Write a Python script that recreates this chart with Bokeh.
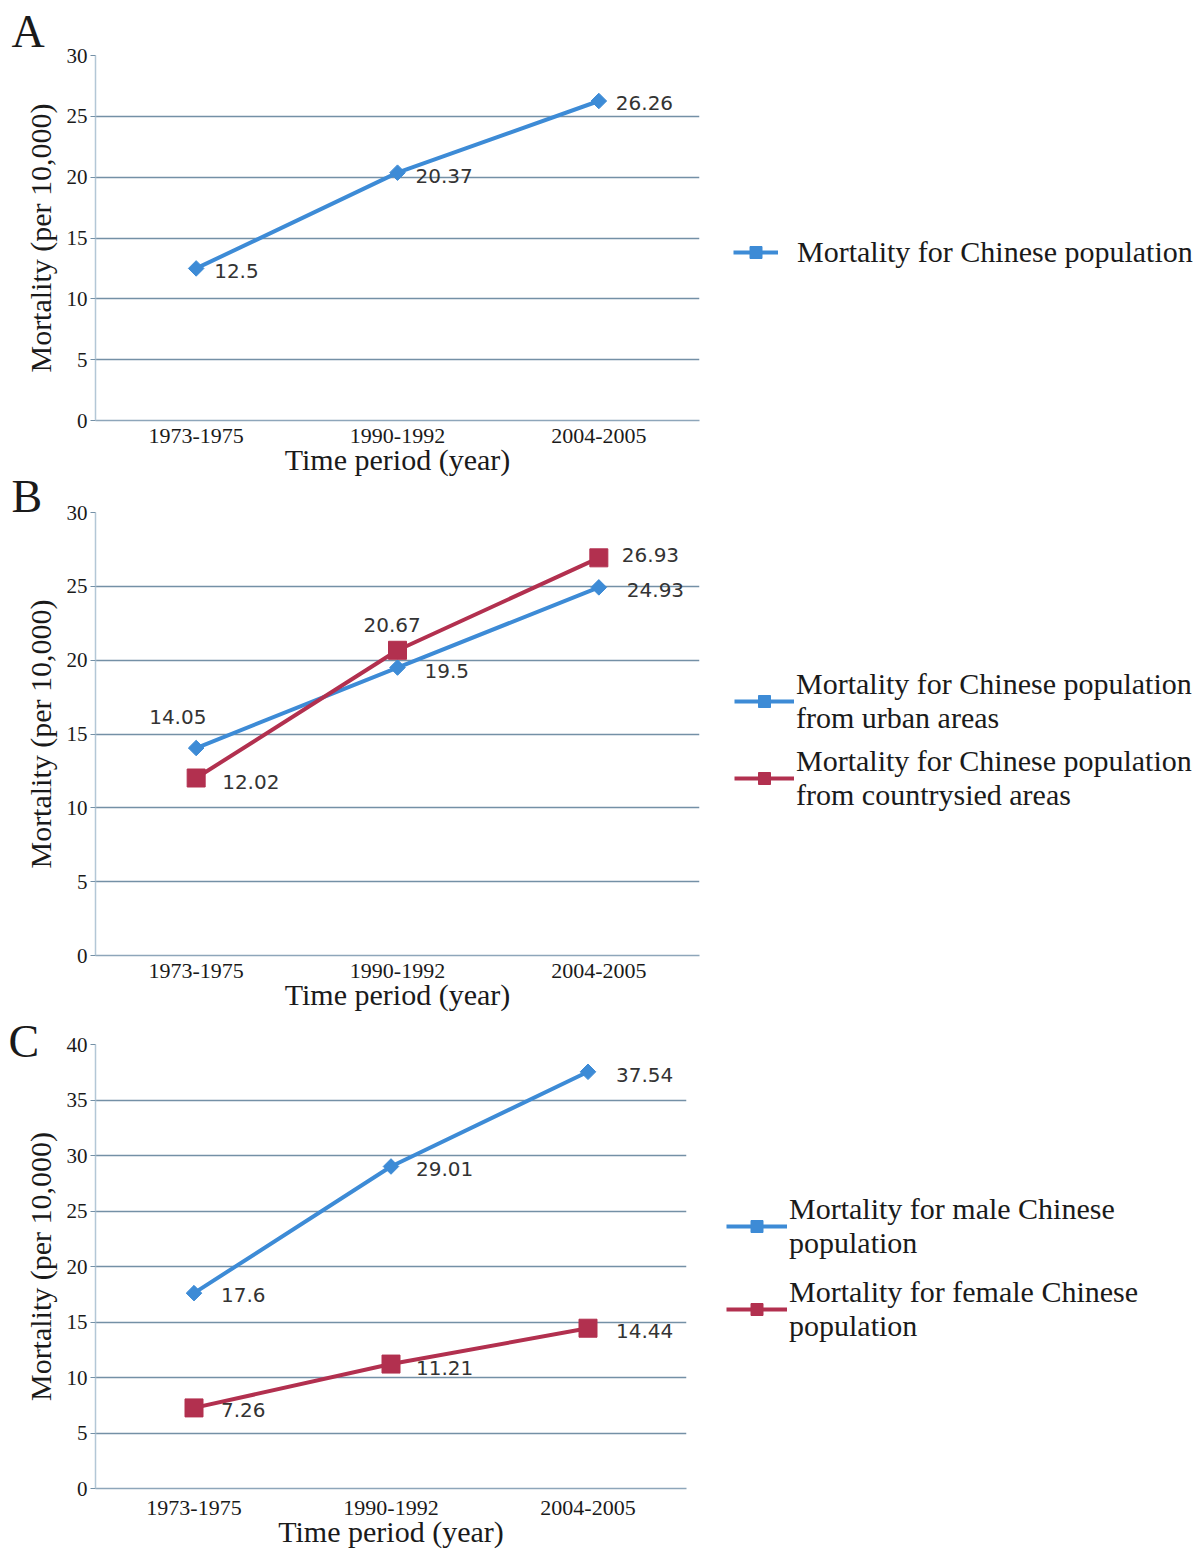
import math
from bokeh.plotting import figure
from bokeh.layouts import column
from bokeh.models import ColumnDataSource, Legend, LegendItem, FixedTicker
from bokeh.core.properties import value
from bokeh.embed import file_html
from bokeh.resources import INLINE

# ---------------- data ----------------
periods = ["1973-1975", "1990-1992", "2004-2005"]
a_total = [12.5, 20.37, 26.26]
b_urban = [14.05, 19.5, 24.93]
b_country = [12.02, 20.67, 26.93]
c_male = [17.6, 29.01, 37.54]
c_female = [7.26, 11.21, 14.44]

a_label = "Mortality for Chinese population"
b_urban_label = "Mortality for Chinese population\nfrom urban areas"
b_country_label = "Mortality for Chinese population\nfrom countrysied areas"
c_male_label = "Mortality for male Chinese\npopulation"
c_female_label = "Mortality for female Chinese\npopulation"

# ---------------- styles ----------------
BLUE = "#3d8bd6"
RED = "#b2304f"
GRID = "#7490a6"
SERIF = "Liberation Serif"
SANS = "DejaVu Sans"
DIAMOND = ("square", 11, math.pi / 4)
SQUARE = ("square", 18, 0)


def make_panel(letter, ymax, series, fw, fh, borders, legend_cfg, letter_cfg, xstand):
    left, right, top, bottom = borders
    p = figure(x_range=periods, y_range=(0, ymax), frame_width=fw, frame_height=fh,
               output_backend="svg", toolbar_location=None,
               min_border_left=left, min_border_right=right,
               min_border_top=top, min_border_bottom=bottom)
    p.outline_line_color = None
    p.background_fill_color = "white"
    p.border_fill_color = "white"
    p.xgrid.grid_line_color = None
    p.ygrid.grid_line_color = GRID
    p.ygrid.grid_line_width = 1.3
    p.yaxis.ticker = FixedTicker(ticks=list(range(0, ymax + 1, 5)))

    p.title.text = letter
    p.title.align = "left"
    p.title.offset = letter_cfg[0]
    p.title.standoff = letter_cfg[1]
    p.title.text_font = SERIF
    p.title.text_font_size = "46px"
    p.title.text_font_style = "normal"
    p.title.text_color = "#1a1a1a"

    p.xaxis.axis_label = "Time period (year)"
    p.yaxis.axis_label = "Mortality (per 10,000)"
    for ax in (p.xaxis, p.yaxis):
        ax.axis_label_text_font = SERIF
        ax.axis_label_text_font_size = "30px"
        ax.axis_label_text_font_style = "normal"
        ax.axis_label_text_color = "#1a1a1a"
        ax.major_label_text_font = SERIF
        ax.major_label_text_font_size = "22px"
        ax.major_label_text_color = "#1a1a1a"
        ax.minor_tick_line_color = None
    p.yaxis.major_label_text_font_size = "21px"
    p.xaxis.axis_line_color = "#8ea6ba"
    p.xaxis.axis_line_width = 1.5
    p.xaxis.major_tick_line_color = None
    p.xaxis.major_label_standoff = xstand[0]
    p.xaxis.axis_label_standoff = xstand[1]
    p.yaxis.axis_line_color = "#b3c7d6"
    p.yaxis.axis_line_width = 1.5
    p.yaxis.major_tick_line_color = GRID
    p.yaxis.major_tick_out = 5
    p.yaxis.major_tick_in = 0
    p.yaxis.major_label_standoff = 3
    p.yaxis.axis_label_standoff = 7

    items = []
    for vals, color, mk, lab, dxs, dys in series:
        marker, msize, angle = mk
        src = ColumnDataSource(dict(x=periods, y=vals, t=[str(v) for v in vals],
                                    dx=dxs, dy=dys))
        lr = p.line("x", "y", source=src, line_color=color, line_width=4)
        sr = p.scatter("x", "y", source=src, marker=marker, size=msize, angle=angle,
                       fill_color=color, line_color=color)
        p.text("x", "y", text="t", source=src, x_offset="dx", y_offset="dy",
               text_align="left", text_baseline="middle",
               text_font=value(SANS), text_font_size="20px", text_color="#333333")
        items.append(LegendItem(label=lab, renderers=[lr, sr]))

    lx, ly, gw, standoff, spacing = legend_cfg
    legend = Legend(items=items, location=(lx, ly), glyph_width=gw, glyph_height=30,
                    label_standoff=standoff, spacing=spacing, padding=0, margin=0,
                    border_line_alpha=0, background_fill_alpha=0,
                    label_text_font=SERIF, label_text_font_size="30px",
                    label_text_color="#1a1a1a")
    p.add_layout(legend, "right")
    return p


pa = make_panel("A", 30,
                [(a_total, BLUE, DIAMOND, a_label, [18, 18, 17], [3, 3, 2])],
                604, 365, (91, 500, 55, 55), (34, 151, 45, 19, 0), (-84, -2), (2, -3))

pb = make_panel("B", 30,
                [(b_urban, BLUE, DIAMOND, b_urban_label, [-47, 27, 28], [-31, 3, 3]),
                 (b_country, RED, SQUARE, b_country_label, [26, -34, 23], [4, -25, -3])],
                604, 443, (91, 500, 31, 55), (35, 143, 60, 2, 9), (-84, -19), (2, -3))

pc = make_panel("C", 40,
                [(c_male, BLUE, DIAMOND, c_male_label, [27, 25, 28], [2, 3, 3]),
                 (c_female, RED, SQUARE, c_female_label, [27, 25, 28], [2, 4, 3])],
                591, 444, (95, 509, 31, 55), (40, 145, 61, 2, 15), (-87, -44), (6, -3))

layout = column(pa, pb, pc, spacing=0)
open("out.html", "w").write(file_html(layout, INLINE))
